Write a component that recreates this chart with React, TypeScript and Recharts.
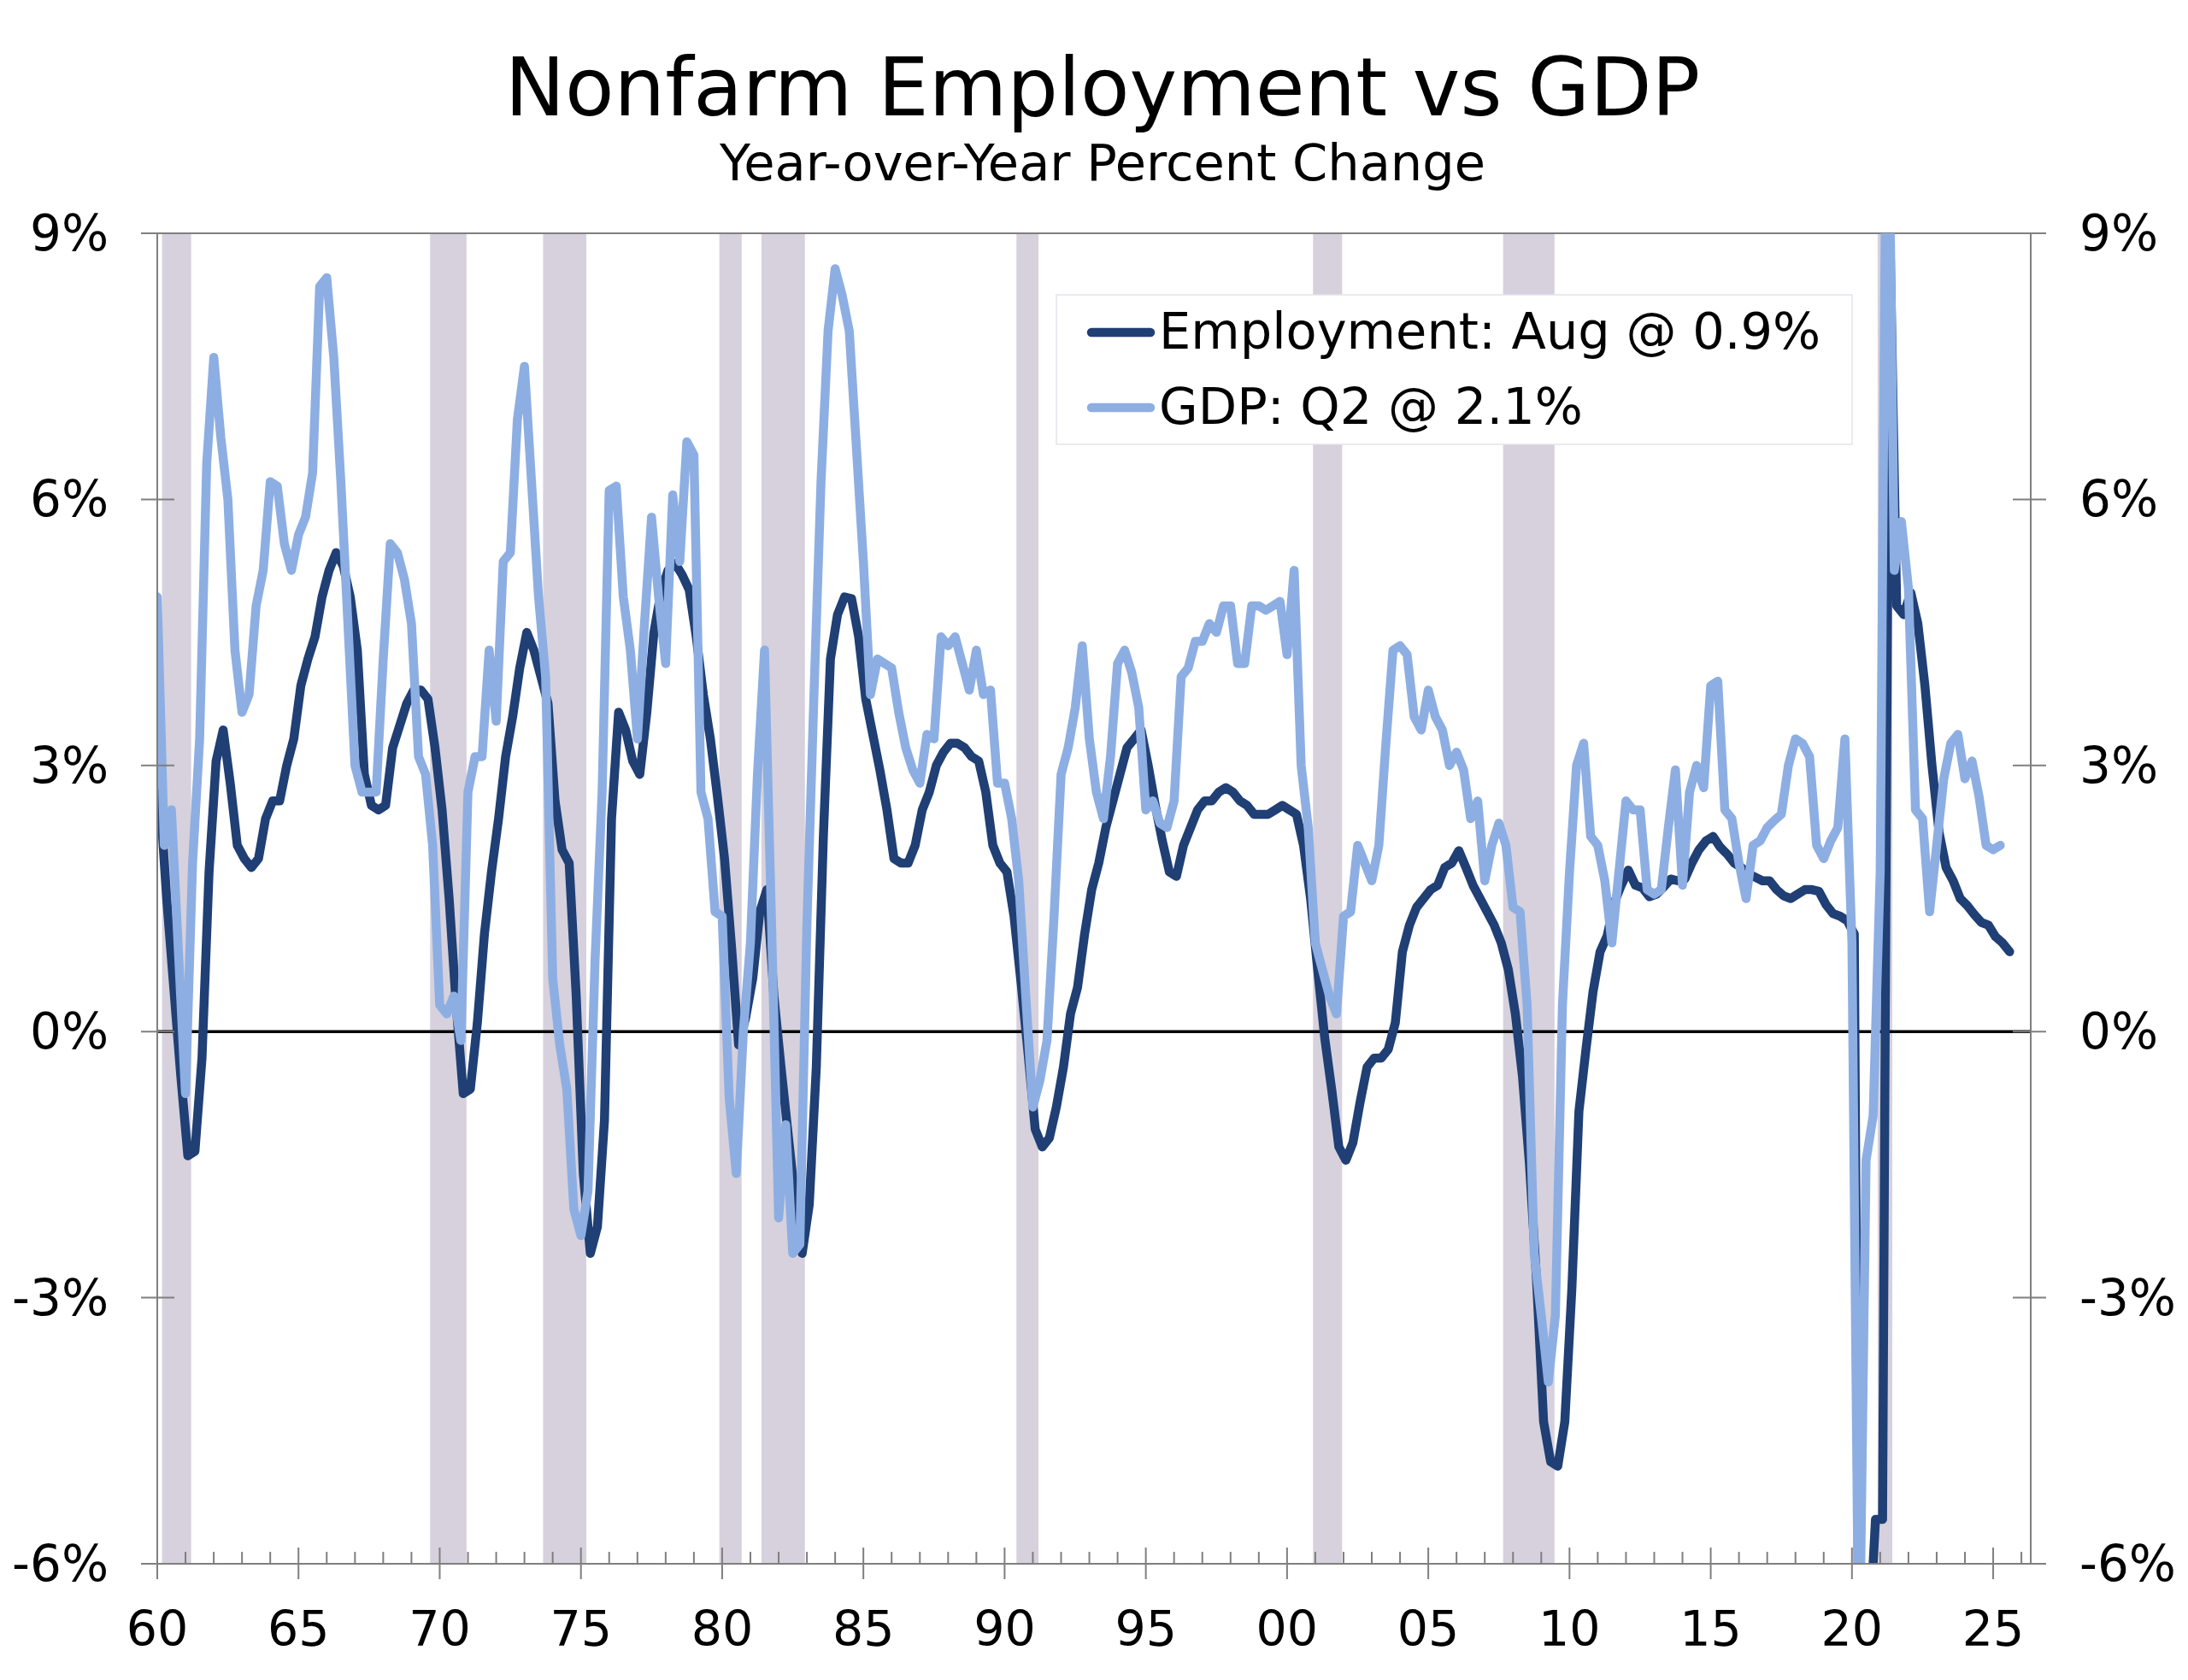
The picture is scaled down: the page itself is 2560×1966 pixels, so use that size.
import React from "react";
import { LineChart, Line, XAxis, YAxis, ReferenceArea, ReferenceLine } from "recharts";

const NAVY = "#1F3F75";
const LIGHT = "#8DAEE2";
const SHADE = "#D6D1DC";
const AXIS = "#7F7F7F";
const FONT = "'DejaVu Sans', Verdana, sans-serif";

// Real GDP, year-over-year %, quarterly from 1960 Q1
const gdpStart = 1960;
const gdpValues = [
  4.9, 2.1, 2.5, 0.9,
  -0.7, 1.9, 3.3, 6.4,
  7.6, 6.7, 6.0, 4.3,
  3.6, 3.8, 4.8, 5.2,
  6.2, 6.15, 5.5, 5.2,
  5.6, 5.8, 6.3, 8.4,
  8.5, 7.6, 6.2, 4.6,
  3.0, 2.7, 2.7, 2.7,
  4.2, 5.5, 5.4, 5.1,
  4.6, 3.1, 2.9, 2.1,
  0.3, 0.2, 0.4, -0.1,
  2.7, 3.1, 3.1, 4.3,
  3.5, 5.3, 5.4, 6.9,
  7.5, 6.2, 4.9, 4.0,
  0.6, -0.15, -0.65, -2.0,
  -2.3, -1.8, 0.8, 2.7,
  6.1, 6.15, 4.9, 4.3,
  3.3, 4.6, 5.8, 4.9,
  4.15, 6.05, 5.3, 6.65,
  6.5, 2.7, 2.4, 1.35,
  1.3, -0.75, -1.6, 0.0,
  1.0, 2.9, 4.3, 1.2,
  -2.1, -1.05, -2.5, -2.4,
  1.2, 3.8, 6.2, 7.9,
  8.6, 8.3, 7.9, 6.6,
  5.3, 3.8, 4.2, 4.15,
  4.1, 3.6, 3.2, 2.95,
  2.8, 3.35, 3.3, 4.45,
  4.35, 4.45, 4.15, 3.85,
  4.3, 3.8, 3.85, 2.8,
  2.8, 2.4, 1.7, 0.4,
  -0.85, -0.55, -0.1, 1.3,
  2.9, 3.2, 3.65, 4.35,
  3.3, 2.7, 2.4, 3.1,
  4.15, 4.3, 4.05, 3.65,
  2.5, 2.6, 2.35, 2.3,
  2.6, 4.0, 4.1, 4.4,
  4.4, 4.6, 4.5, 4.8,
  4.8, 4.15, 4.15, 4.8,
  4.8, 4.75, 4.8, 4.85,
  4.25, 5.2, 3.0, 2.3,
  1.0, 0.7, 0.4, 0.2,
  1.3, 1.35, 2.1, 1.9,
  1.7, 2.1, 3.25, 4.3,
  4.35, 4.25, 3.55, 3.4,
  3.85, 3.55, 3.4, 3.0,
  3.15, 2.95, 2.4, 2.6,
  1.7, 2.1, 2.35, 2.1,
  1.4, 1.35, 0.3, -2.5,
  -3.2, -3.95, -3.2, 0.3,
  1.8, 3.0, 3.25, 2.2,
  2.1, 1.7, 1.0, 1.8,
  2.6, 2.5, 2.5, 1.6,
  1.55, 1.6, 2.3, 2.95,
  1.65, 2.7, 3.0, 2.75,
  3.9, 3.95, 2.5, 2.4,
  1.9, 1.5, 2.1, 2.15,
  2.3, 2.38, 2.45, 3.0,
  3.3, 3.25, 3.1, 2.1,
  1.95, 2.15, 2.3, 3.3,
  1.0, -7.5, -1.45, -0.95,
  1.8, 12.0, 5.2, 5.75,
  5.0, 2.5, 2.4, 1.35,
  2.1, 2.85, 3.25, 3.35,
  2.85, 3.05, 2.65, 2.1,
  2.05, 2.1,
];

// Nonfarm payrolls, year-over-year %, read every 3 months (Feb, May, Aug, Nov) from Feb 1960
const empStart = 1960 + 1 / 12;
const empValues = [
  2.7, 1.5, 0.5, -0.5,
  -1.4, -1.35, -0.3, 1.8,
  3.05, 3.4, 2.8, 2.1,
  1.95, 1.85, 1.95, 2.4,
  2.6, 2.6, 3.0, 3.3,
  3.9, 4.2, 4.45, 4.9,
  5.2, 5.4, 5.25, 4.9,
  4.3, 2.9, 2.55, 2.5,
  2.55, 3.2, 3.45, 3.7,
  3.85, 3.85, 3.75, 3.2,
  2.5, 1.5, 0.3, -0.7,
  -0.65, 0.1, 1.1, 1.8,
  2.4, 3.1, 3.55, 4.1,
  4.5, 4.3, 4.0, 3.7,
  2.6, 2.05, 1.9, 0.4,
  -1.6, -2.5, -2.2, -1.0,
  2.4, 3.6, 3.4, 3.05,
  2.9, 3.6, 4.5, 4.95,
  5.2, 5.28, 5.15, 4.98,
  4.45, 3.8, 3.3, 2.65,
  1.95, 0.95, -0.15, 0.16,
  0.6, 1.35, 1.6, 0.4,
  -0.4, -1.15, -1.9, -2.5,
  -1.95, -0.4, 2.2, 4.2,
  4.7, 4.9, 4.88, 4.45,
  3.75, 3.35, 2.95, 2.5,
  1.95, 1.9, 1.9, 2.1,
  2.5, 2.7, 3.0, 3.15,
  3.25, 3.25, 3.2, 3.1,
  3.05, 2.7, 2.1, 1.9,
  1.8, 1.3, 0.55, -0.25,
  -1.1, -1.3, -1.2, -0.85,
  -0.4, 0.2, 0.5, 1.1,
  1.6, 1.9, 2.3, 2.6,
  2.9, 3.2, 3.3, 3.4,
  3.0, 2.55, 2.15, 1.8,
  1.75, 2.1, 2.3, 2.5,
  2.6, 2.6, 2.7, 2.75,
  2.7, 2.6, 2.55, 2.45,
  2.45, 2.45, 2.5, 2.55,
  2.5, 2.45, 2.1, 1.5,
  0.7, -0.07, -0.66, -1.3,
  -1.45, -1.25, -0.8, -0.4,
  -0.3, -0.3, -0.2, 0.1,
  0.9, 1.2, 1.4, 1.5,
  1.6, 1.65, 1.85, 1.9,
  2.04, 1.85, 1.65, 1.5,
  1.35, 1.2, 1.0, 0.7,
  0.2, -0.5, -1.5, -2.8,
  -4.4, -4.85, -4.9, -4.4,
  -2.9, -0.9, -0.2, 0.45,
  0.9, 1.08, 1.45, 1.65,
  1.82, 1.65, 1.62, 1.52,
  1.55, 1.63, 1.72, 1.7,
  1.72, 1.9, 2.05, 2.15,
  2.2, 2.08, 2.0, 1.9,
  1.85, 1.78, 1.74, 1.7,
  1.7, 1.6, 1.53, 1.5,
  1.55, 1.6, 1.6, 1.58,
  1.43, 1.33, 1.3, 1.25,
  1.1, -12.0, -7.0, -5.5,
  -5.5, 9.2, 4.8, 4.7,
  4.95, 4.6, 3.9, 3.0,
  2.25, 1.85, 1.7, 1.5,
  1.42, 1.32, 1.23, 1.2,
  1.07, 1.0, 0.9,
];

// shaded recession periods (decimal years, as drawn)
const recessions: [number, number][] = [
  [1960.17, 1961.2],
  [1969.66, 1970.95],
  [1973.66, 1975.19],
  [1979.9, 1980.69],
  [1981.39, 1982.93],
  [1990.42, 1991.2],
  [2000.92, 2001.95],
  [2007.65, 2009.47],
  [2020.91, 2021.43],
];

const yTicks = [-6, -3, 0, 3, 6, 9];
const xDomain: [number, number] = [1960, 2026.33];
const xTicks = Array.from({ length: 67 }, (_, i) => 1960 + i);

const legendItems = [
  { label: "Employment: Aug @ 0.9%", color: NAVY },
  { label: "GDP: Q2 @ 2.1%", color: LIGHT },
];

const gdpData = gdpValues.map((v, i) => ({ x: gdpStart + i * 0.25, gdp: v }));
const empData = empValues.map((v, i) => ({ x: empStart + i * 0.25, emp: v }));

const fmtPct = (v: number) => `${v}%`;

function LeftTick({ x, y, payload }: any) {
  return (
    <g>
      <line x1={x - 19} x2={x + 20} y1={y} y2={y} stroke={AXIS} strokeWidth={2} />
      <text x={x - 57} y={y + 20} textAnchor="end" fontSize={58} fontFamily={FONT} fill="#000">
        {fmtPct(payload.value)}
      </text>
    </g>
  );
}

function RightTick({ x, y, payload }: any) {
  return (
    <g>
      <line x1={x - 21} x2={x + 18} y1={y} y2={y} stroke={AXIS} strokeWidth={2} />
      <text x={x + 57} y={y + 20} textAnchor="start" fontSize={58} fontFamily={FONT} fill="#000">
        {fmtPct(payload.value)}
      </text>
    </g>
  );
}

function YearTick({ x, y, payload }: any) {
  const yr = payload.value as number;
  const major = yr % 5 === 0;
  return (
    <g>
      <line x1={x} x2={x} y1={major ? y - 19 : y - 14} y2={major ? y + 18 : y} stroke={AXIS} strokeWidth={2} />
      {major && (
        <text x={x} y={y + 96} textAnchor="middle" fontSize={57} fontFamily={FONT} fill="#000">
          {String(yr % 100).padStart(2, "0")}
        </text>
      )}
    </g>
  );
}

export default function App() {
  return (
    <div style={{ position: "absolute", left: 0, top: 0, width: 2560, height: 1966, background: "#fff" }}>
      <LineChart width={2560} height={1966} margin={{ top: 273, right: 0, bottom: 0, left: 0 }}>
        <XAxis
          dataKey="x"
          type="number"
          domain={xDomain}
          ticks={xTicks}
          allowDataOverflow
          height={136}
          tickSize={0}
          tickMargin={0}
          tickLine={false}
          axisLine={{ stroke: AXIS, strokeWidth: 2 }}
          tick={<YearTick />}
          interval={0}
        />
        <YAxis
          yAxisId="left"
          domain={[-6, 9]}
          ticks={yTicks}
          allowDataOverflow
          width={184}
          tickSize={0}
          tickMargin={0}
          tickLine={false}
          axisLine={{ stroke: AXIS, strokeWidth: 2 }}
          tick={<LeftTick />}
          interval={0}
        />
        <YAxis
          yAxisId="right"
          orientation="right"
          domain={[-6, 9]}
          ticks={yTicks}
          allowDataOverflow
          width={184}
          tickSize={0}
          tickMargin={0}
          tickLine={false}
          axisLine={{ stroke: AXIS, strokeWidth: 2 }}
          tick={<RightTick />}
          interval={0}
        />
        {recessions.map(([a, b]) => (
          <ReferenceArea
            key={a}
            yAxisId="left"
            x1={a}
            x2={b}
            y1={-6}
            y2={9}
            fill={SHADE}
            fillOpacity={1}
            stroke="none"
          />
        ))}
        <ReferenceLine yAxisId="left" y={9} stroke={AXIS} strokeWidth={2} />
        <ReferenceLine yAxisId="left" y={0} stroke="#000" strokeWidth={3.5} />
        <Line
          yAxisId="left"
          data={empData}
          dataKey="emp"
          stroke={NAVY}
          strokeWidth={10.5}
          strokeLinejoin="round"
          strokeLinecap="round"
          dot={false}
          isAnimationActive={false}
        />
        <Line
          yAxisId="left"
          data={gdpData}
          dataKey="gdp"
          stroke={LIGHT}
          strokeWidth={10.5}
          strokeLinejoin="round"
          strokeLinecap="round"
          dot={false}
          isAnimationActive={false}
        />
      </LineChart>
      <svg
        width={2560}
        height={1966}
        style={{ position: "absolute", left: 0, top: 0, pointerEvents: "none" }}
      >
        <text x={1290} y={135} textAnchor="middle" fontSize={94} fontFamily={FONT} fill="#000">
          Nonfarm Employment vs GDP
        </text>
        <text x={1290} y={211} textAnchor="middle" fontSize={59} fontFamily={FONT} fill="#000">
          Year-over-Year Percent Change
        </text>
        <rect x={1236} y={345} width={931} height={175} fill="#fff" stroke="#E4E4EC" strokeWidth={1.5} />
        {legendItems.map((it, i) => (
          <g key={it.label}>
            <line
              x1={1277}
              x2={1346}
              y1={389 + i * 88}
              y2={389 + i * 88}
              stroke={it.color}
              strokeWidth={10.5}
              strokeLinecap="round"
            />
            <text x={1356} y={408 + i * 88} fontSize={59} fontFamily={FONT} fill="#000">
              {it.label}
            </text>
          </g>
        ))}
      </svg>
    </div>
  );
}
